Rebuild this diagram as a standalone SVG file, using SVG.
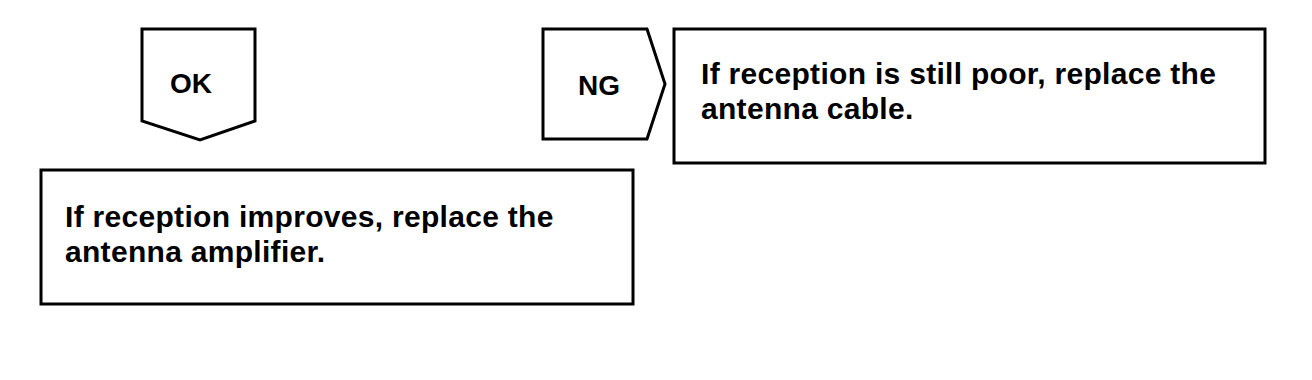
<svg xmlns="http://www.w3.org/2000/svg" width="1312" height="380" viewBox="0 0 1312 380">
<style>
.shape{fill:#fff;stroke:#000;stroke-width:3;stroke-linejoin:miter}
.t{font-family:"Liberation Sans",Arial,sans-serif;font-weight:bold;font-size:28px;fill:#000}
.body{font-size:30px;letter-spacing:0.3px}
</style>
<rect width="1312" height="380" fill="#fff"/>
<g id="connectors"></g>
<g id="ok">
<path class="shape" d="M142,29 L255,29 L255,121 L200,140 L142,121 Z"/>
<text class="t" x="170" y="93">OK</text>
</g>
<g id="ng">
<path class="shape" d="M543,29 L647,29 L665,84 L647,139 L543,139 Z"/>
<text class="t" x="578" y="95">NG</text>
</g>
<g id="ng-result">
<rect class="shape" x="674" y="29" width="591" height="134"/>
<text class="t body" x="701" y="84">If reception is still poor, replace the</text>
<text class="t body" x="701" y="119">antenna cable.</text>
</g>
<g id="ok-result">
<rect class="shape" x="41" y="170" width="592" height="134"/>
<text class="t body" x="65" y="227">If reception improves, replace the</text>
<text class="t body" x="65" y="262">antenna amplifier.</text>
</g>
</svg>
